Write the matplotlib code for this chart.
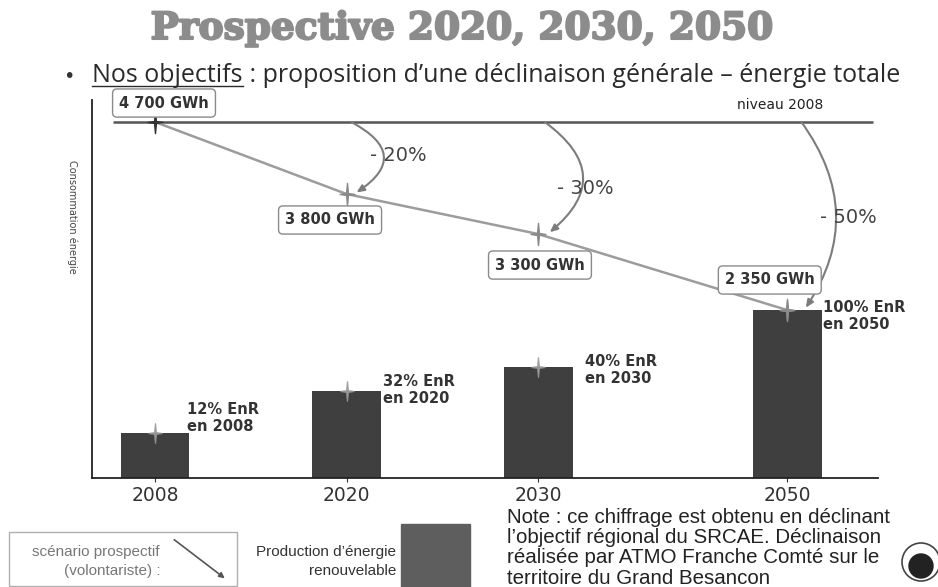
import matplotlib
matplotlib.use("Agg")
import matplotlib.pyplot as plt
import matplotlib.patheffects as pe
from matplotlib.path import Path
from matplotlib.patches import Rectangle, Circle, FancyArrowPatch
from matplotlib.transforms import IdentityTransform

W, H = 938, 587

# data
years = ["2008", "2020", "2030", "2050"]
xpos = [0, 1, 2, 3.3]                      # years are not evenly spaced on the slide
conso = [4700, 3800, 3300, 2350]           # GWh, prospective scenario
conso_lbl = ["4 700 GWh", "3 800 GWh", "3 300 GWh", "2 350 GWh"]
enr_prod = [810, 1340, 1640, 2350]         # renewable production bars
enr_lbl = ["12% EnR\nen 2008", "32% EnR\nen 2020", "40% EnR\nen 2030", "100% EnR\nen 2050"]
reduc_lbl = ["- 20%", "- 30%", "- 50%"]
niveau = conso[0]

# 4 point sparkle marker
sparkle = Path([(0, 1.5), (0.13, 0.13), (1, 0), (0.13, -0.13), (0, -1.5),
                (-0.13, -0.13), (-1, 0), (-0.13, 0.13), (0, 1.5)], closed=True)

def px(x, y):
    return x / W, 1 - y / H

fig = plt.figure(figsize=(W / 100, H / 100), dpi=100)
ax = fig.add_axes([92 / W, 1 - 478 / H, (878 - 92) / W, (478 - 100) / H])

ax.bar(xpos, enr_prod, width=0.36, color="#3f3f3f", zorder=2)
ax.plot(xpos, enr_prod, ls="none", marker=sparkle, ms=14, color="#9a9a9a", alpha=0.85, zorder=3)

ax.hlines(niveau, -0.22, 3.75, color="#555555", lw=1.8, zorder=2)
ax.text(3.49, 4912, "niveau 2008", ha="right", va="center", fontsize=10, color="#222222")

ax.plot(xpos, conso, color="#9c9c9c", lw=1.8, zorder=3)
ax.plot(xpos[1:], conso[1:], ls="none", marker=sparkle, ms=16, color="#8a8a8a", zorder=4)
ax.plot(xpos[0], conso[0], ls="none", marker=sparkle, ms=16, color="#333333", zorder=4)

# curved arrows from the 2008 level down to each target
arc_rad = [-0.85, -0.65, -0.35]
arc_dx = [0.04, 0.05, 0.09]
for i, rad in enumerate(arc_rad, start=1):
    ax.annotate("", xy=(xpos[i] + arc_dx[i - 1], conso[i]),
                xytext=(xpos[i] + arc_dx[i - 1] - 0.015, niveau),
                arrowprops=dict(arrowstyle="-|>,head_length=0.45,head_width=0.2",
                                connectionstyle=f"arc3,rad={rad}", color="#7c7c7c",
                                lw=1.5, shrinkA=0, shrinkB=2), zorder=3)

reduc_pos = [(1.27, 4287), (2.245, 3875), (3.62, 3512)]
for lab, (x, y) in zip(reduc_lbl, reduc_pos):
    ax.text(x, y, lab, ha="center", va="center", fontsize=14, color="#444444")

box_pos = [(0.047, 4937), (0.914, 3475), (2.01, 2912), (3.21, 2725)]
for lab, (x, y) in zip(conso_lbl, box_pos):
    ax.text(x, y, lab, ha="center", va="center", fontsize=10.5, fontweight="bold",
            color="#333333", zorder=5,
            bbox=dict(boxstyle="round,pad=0.45,rounding_size=0.3", fc="white",
                      ec="#8a8a8a", lw=1))

enr_pos = [(0.167, 1000), (1.19, 1350), (2.245, 1600), (3.49, 2275)]
for lab, (x, y) in zip(enr_lbl, enr_pos):
    ax.text(x, y, lab, ha="left", va="center", fontsize=10.5, fontweight="bold",
            color="#333333", linespacing=1.2, zorder=5)

ax.set_xlim(-0.329, 3.775)
ax.set_ylim(250, 4975)
ax.set_xticks(xpos, years, fontsize=13.5, color="#333333")
ax.tick_params(axis="x", length=3, pad=3, color="#333333")
ax.set_yticks([])
for s in ["top", "right"]:
    ax.spines[s].set_visible(False)
for s in ["left", "bottom"]:
    ax.spines[s].set_color("#222222")
    ax.spines[s].set_linewidth(1.3)

fig.text(*px(72, 217), "Consommation énergie", rotation=-90, ha="center", va="center",
         fontsize=7, color="#444444")

# title and subtitle
fig.text(*px(462, 39), "Prospective 2020, 2030, 2050", ha="center", va="baseline",
         family="DejaVu Serif", fontweight="bold", fontsize=27, color="#8c8c8c",
         path_effects=[pe.withStroke(linewidth=1.5, foreground="#8c8c8c")])
fig.text(*px(63, 82), "•", ha="left", va="baseline", fontsize=14, color="#333333")
t1 = fig.text(*px(92, 82), "Nos objectifs", ha="left", va="baseline", family="Open Sans",
              fontsize=18, color="#2a2a2a")
r = fig.canvas.get_renderer()
bb = t1.get_window_extent(r)
fig.text(bb.x1 / W, 1 - 82 / H, " : proposition d’une déclinaison générale – énergie totale",
         ha="left", va="baseline", family="Open Sans", fontsize=18, color="#2a2a2a")
fig.add_artist(plt.Line2D([bb.x0, bb.x1], [H - 86, H - 86], transform=IdentityTransform(),
                          color="#2a2a2a", lw=1))

# bottom legend
idt = IdentityTransform()
fig.add_artist(Rectangle((9, H - 586), 228, 54, transform=idt, fill=False, ec="#b0b0b0", lw=1))
fig.text(*px(160, 552), "scénario prospectif", ha="right", va="center", family="Liberation Sans",
         fontsize=11, color="#777777")
fig.text(*px(160, 571), "(volontariste) :", ha="right", va="center", family="Liberation Sans",
         fontsize=11, color="#777777")
fig.add_artist(FancyArrowPatch((172, H - 538), (227, H - 580), transform=idt,
                               arrowstyle="-|>", mutation_scale=8, color="#555555", lw=1.2))
fig.text(*px(396, 552), "Production d’énergie", ha="right", va="center", family="Liberation Sans",
         fontsize=11, color="#333333")
fig.text(*px(396, 571), "renouvelable", ha="right", va="center", family="Liberation Sans",
         fontsize=11, color="#333333")
fig.add_artist(Rectangle((401, 0), 69, 63, transform=idt, color="#5e5e5e"))

note = ("Note : ce chiffrage est obtenu en déclinant\n"
        "l’objectif régional du SRCAE. Déclinaison\n"
        "réalisée par ATMO Franche Comté sur le\n"
        "territoire du Grand Besancon")
fig.text(*px(507, 508), note, ha="left", va="top", family="Liberation Sans", fontsize=14.8,
         color="#222222", linespacing=1.08)

fig.add_artist(Circle((921, H - 562), 19, transform=idt, fill=False, ec="#444444", lw=1.2))
fig.add_artist(Circle((921, H - 566), 12, transform=idt, color="#222222"))

fig.savefig("out.png", dpi=100)
